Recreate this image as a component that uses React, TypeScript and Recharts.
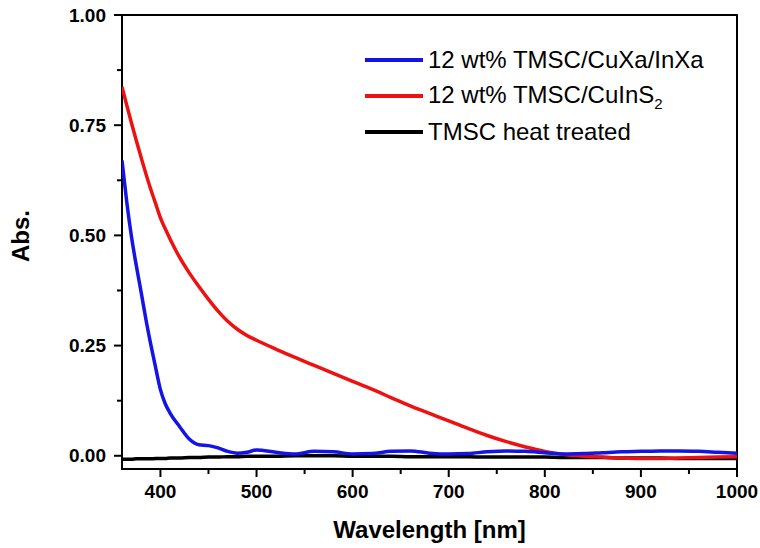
import React from 'react';
import { LineChart, Line, XAxis, YAxis, ReferenceArea, Legend } from 'recharts';

const wavelengths = [360, 365, 370, 375, 380, 385, 390, 395, 400, 405, 410, 420, 430, 440, 450, 460, 470, 480, 490, 500, 520, 540, 560, 580, 600, 620, 640, 660, 680, 700, 720, 740, 760, 780, 800, 820, 840, 860, 880, 900, 920, 940, 960, 980, 1000];

const blueAbs = [0.67, 0.575, 0.495, 0.43, 0.37, 0.308, 0.252, 0.2, 0.15, 0.118, 0.097, 0.066, 0.038, 0.025, 0.023, 0.018, 0.01, 0.006, 0.008, 0.013, 0.008, 0.004, 0.01, 0.009, 0.004, 0.005, 0.01, 0.011, 0.006, 0.004, 0.005, 0.009, 0.011, 0.01, 0.007, 0.004, 0.005, 0.007, 0.009, 0.01, 0.011, 0.011, 0.01, 0.008, 0.006];

const redAbs = [0.837, 0.795, 0.754, 0.714, 0.676, 0.639, 0.604, 0.572, 0.54, 0.515, 0.492, 0.45, 0.415, 0.384, 0.355, 0.328, 0.305, 0.287, 0.273, 0.262, 0.242, 0.223, 0.205, 0.187, 0.169, 0.151, 0.132, 0.113, 0.096, 0.079, 0.062, 0.046, 0.032, 0.02, 0.01, 0.003, -0.001, -0.003, -0.005, -0.006, -0.006, -0.005, -0.004, -0.003, -0.002];

const blackAbs = [-0.008, -0.008, -0.008, -0.007, -0.007, -0.007, -0.007, -0.006, -0.006, -0.006, -0.005, -0.005, -0.004, -0.004, -0.003, -0.003, -0.002, -0.002, -0.001, -0.001, -0.001, 0, 0, 0, -0.001, -0.001, -0.001, -0.002, -0.002, -0.002, -0.002, -0.003, -0.003, -0.003, -0.003, -0.004, -0.004, -0.004, -0.005, -0.005, -0.005, -0.006, -0.006, -0.006, -0.006];

const seriesNames = ['12 wt% TMSC/CuXa/InXa', '12 wt% TMSC/CuInS2', 'TMSC heat treated'];
const seriesColors = ['#1414e6', '#ee1111', '#000000'];

const xTicks = [400, 450, 500, 550, 600, 650, 700, 750, 800, 850, 900, 950, 1000];
const yTicks = [0, 0.125, 0.25, 0.375, 0.5, 0.625, 0.75, 0.875, 1.0];

const data = wavelengths.map((w, i) => ({ w, blue: blueAbs[i], red: redAbs[i], black: blackAbs[i] }));

const FONT = '"Liberation Sans", Arial, Helvetica, sans-serif';

const XTick = (props: any) => {
  const { x, y, payload } = props;
  const major = payload.value % 100 === 0;
  return (
    <g>
      <line x1={x} x2={x} y1={y} y2={y + (major ? 8 : 5)} stroke="#000" strokeWidth={2} />
      {major && (
        <text x={x} y={y + 29} textAnchor="middle" fontFamily={FONT} fontWeight="bold" fontSize={19} fill="#000">
          {payload.value}
        </text>
      )}
    </g>
  );
};

const YTick = (props: any) => {
  const { x, y, payload } = props;
  const v = payload.value;
  const major = Math.abs(v * 4 - Math.round(v * 4)) < 1e-6;
  return (
    <g>
      <line x1={x - (major ? 8 : 5)} x2={x} y1={y} y2={y} stroke="#000" strokeWidth={2} />
      {major && (
        <text x={x - 16} y={y + 6.5} textAnchor="end" fontFamily={FONT} fontWeight="bold" fontSize={19} fill="#000">
          {v.toFixed(2)}
        </text>
      )}
    </g>
  );
};

const renderName = (name: string) => {
  if (name.endsWith('S2')) {
    return (
      <span>
        {name.slice(0, -1)}
        <sub style={{ fontSize: 15 }}>2</sub>
      </span>
    );
  }
  return <span>{name}</span>;
};

const renderLegend = () => (
  <div style={{ fontFamily: FONT, fontSize: 24, color: '#000' }}>
    {seriesNames.map((n, i) => (
      <div key={n} style={{ display: 'flex', alignItems: 'center', height: 36, whiteSpace: 'nowrap' }}>
        <div style={{ width: 58, height: 4, background: seriesColors[i], marginRight: 5 }} />
        {renderName(n)}
      </div>
    ))}
  </div>
);

const YTitle = (props: any) => {
  const vb = props.viewBox || { x: 0, y: 15, width: 122, height: 454 };
  const cx = 29;
  const cy = vb.y + vb.height / 2 - 6;
  return (
    <text x={cx} y={cy} transform={`rotate(-90, ${cx}, ${cy})`} textAnchor="middle" fontFamily={FONT} fontWeight="bold" fontSize={24} fill="#000">
      Abs.
    </text>
  );
};

export default function App() {
  return (
    <div style={{ position: 'absolute', left: 0, top: 0, width: 760, height: 548, background: '#fff' }}>
      <LineChart width={760} height={548} data={data} margin={{ top: 15, right: 23, bottom: 0, left: 0 }}>
        <XAxis
          dataKey="w"
          type="number"
          domain={[360, 1000]}
          ticks={xTicks}
          interval={0}
          allowDataOverflow
          axisLine={false}
          tickLine={false}
          tickSize={0}
          tickMargin={0}
          tick={<XTick />}
          height={79}
          label={{ value: 'Wavelength [nm]', position: 'insideBottom', offset: 10, style: { fontFamily: FONT, fontWeight: 'bold', fontSize: 24, fill: '#000' } }}
        />
        <YAxis
          type="number"
          domain={[-0.03, 1.0]}
          ticks={yTicks}
          interval={0}
          allowDataOverflow
          axisLine={false}
          tickLine={false}
          tickSize={0}
          tickMargin={0}
          tick={<YTick />}
          width={122}
          label={<YTitle />}
        />
        <ReferenceArea x1={360} x2={1000} y1={-0.03} y2={1.0} fill="none" stroke="#000" strokeWidth={2} ifOverflow="visible" />
        <Line dataKey="black" name={seriesNames[2]} stroke={seriesColors[2]} strokeWidth={3.5} dot={false} type="monotone" isAnimationActive={false} />
        <Line dataKey="red" name={seriesNames[1]} stroke={seriesColors[1]} strokeWidth={3.5} dot={false} type="monotone" isAnimationActive={false} />
        <Line dataKey="blue" name={seriesNames[0]} stroke={seriesColors[0]} strokeWidth={3.5} dot={false} type="monotone" isAnimationActive={false} />
        <Legend
          layout="vertical"
          align="center"
          verticalAlign="middle"
          content={renderLegend}
          wrapperStyle={{ left: 365, top: 42, width: 'auto', height: 'auto' }}
        />
      </LineChart>
    </div>
  );
}
